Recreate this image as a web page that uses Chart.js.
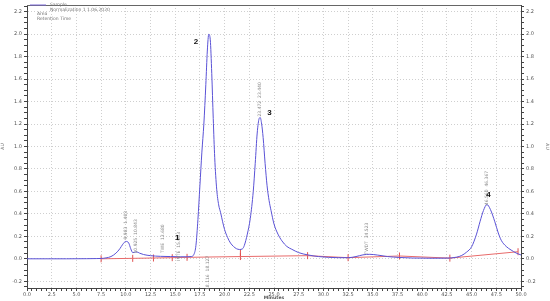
<!DOCTYPE html>
<html>
<head>
<meta charset="utf-8">
<script src="https://cdn.jsdelivr.net/npm/chart.js@4/dist/chart.umd.min.js"></script>
<style>
html,body{margin:0;padding:0;background:#fff;}
#wrap{width:550px;height:301px;position:relative;}
</style>
</head>
<body>
<div id="wrap"><canvas id="c" width="550" height="301"></canvas></div>
<script>
// ---- data ----
const traceTimes = [0,2,4,6,7,7.5,8,8.5,9,9.4,9.7,10.0,10.3,10.5,10.7,10.9,11.1,11.4,11.8,12.5,13.5,14.5,15.5,16.2,16.6,16.9,17.1,17.3,17.5,17.7,17.9,18.1,18.25,18.4,18.55,18.7,18.85,19.0,19.2,19.4,19.6,19.8,20.0,20.3,20.6,20.9,21.2,21.5,21.8,22.0,22.3,22.6,22.9,23.1,23.3,23.5,23.6,23.75,23.9,24.1,24.3,24.5,24.7,25.0,25.4,25.8,26.3,26.8,27.5,28.4,29.5,30.5,31.5,32.5,33.3,34.0,34.7,35.5,36.5,37.7,39,41,42.5,43.5,44.0,44.5,45.0,45.5,45.85,46.2,46.55,46.9,47.35,47.7,48.0,48.5,49.0,49.5,50.0];
const traceValues = [0,0,0,0.001,0.002,0.003,0.008,0.02,0.05,0.09,0.13,0.155,0.14,0.09,0.055,0.058,0.062,0.05,0.038,0.028,0.022,0.02,0.018,0.018,0.02,0.04,0.12,0.35,0.65,0.95,1.2,1.55,1.85,2.0,1.95,1.65,1.25,0.9,0.62,0.48,0.41,0.33,0.26,0.19,0.14,0.11,0.09,0.083,0.088,0.12,0.22,0.36,0.6,0.85,1.12,1.25,1.258,1.2,1.08,0.85,0.65,0.52,0.43,0.31,0.22,0.16,0.11,0.085,0.055,0.035,0.02,0.013,0.01,0.01,0.02,0.035,0.04,0.033,0.02,0.012,0.007,0.005,0.006,0.015,0.03,0.06,0.107,0.22,0.33,0.43,0.483,0.44,0.33,0.23,0.165,0.11,0.078,0.052,0.034];

const baseTimes  = [7.5,10.7,12.8,14.7,16.2,21.6,28.4,32.5,37.7,42.8,49.7];
const baseValues = [0.0,0.004,0.007,0.010,0.013,0.020,0.028,0.01,0.025,0.006,0.063];
const tallMarkTime = 21.6;
const tallMarkValues = [0.02,0.085];

const peakNames  = ["1","2","3","4"];
const peakTimes  = [15.2,17.1,24.55,46.7];
const peakValues = [0.19,1.93,1.30,0.57];

const annTexts  = ["9.983  1.403","10.925  10.843","TWE  13.680","INTE  15.003","18.116  18.127","23.472  23.440","TWDT  34.523","46.560  46.367"];
const annTimes  = [9.96,11.04,13.75,15.33,18.3,23.54,34.35,46.58];
const annValues = [0.30,0.20,0.18,0.11,-0.125,1.42,0.18,0.63];

const legendTexts = ["Sample","Normalization 1 1.06.2020","Area","Retention Time"];

const xTickValues = []; for (let i=0;i<=100;i++) xTickValues.push(i*0.5);
const yTickValues = []; for (let i=-5;i<=45;i++) yTickValues.push(i*0.05);

// ---- helpers ----
const isMajorX = v => Math.abs(v/2.5 - Math.round(v/2.5)) < 1e-6;
const isMajorY = v => Math.abs(v/0.2 - Math.round(v/0.2)) < 1e-6;
const pts = (xs,ys) => xs.map((x,i)=>({x:x,y:ys[i]}));

const overlay = {
  id:'overlay',
  afterDatasetsDraw(chart){
    const ctx = chart.ctx, xs = chart.scales.x, ys = chart.scales.y, ca = chart.chartArea;
    ctx.save();
    ctx.strokeStyle = '#666'; ctx.lineWidth = 1;
    ctx.beginPath(); ctx.moveTo(ca.left, ca.top+0.5); ctx.lineTo(ca.right, ca.top+0.5); ctx.stroke();
    ctx.fillStyle = '#8a8a8a';
    ctx.font = '4.5px "DejaVu Sans"';
    ctx.textAlign = 'center'; ctx.textBaseline = 'middle';
    annTexts.forEach((t,i)=>{
      const px = xs.getPixelForValue(annTimes[i]), py = ys.getPixelForValue(annValues[i]);
      ctx.save(); ctx.translate(px,py); ctx.rotate(-Math.PI/2); ctx.fillText(t,0,0); ctx.restore();
    });
    ctx.fillStyle = '#111';
    ctx.font = 'bold 8px "Liberation Sans"';
    peakNames.forEach((t,i)=>{
      ctx.fillText(t, xs.getPixelForValue(peakTimes[i]), ys.getPixelForValue(peakValues[i]));
    });
    ctx.strokeStyle = '#7b68d8'; ctx.lineWidth = 1;
    ctx.beginPath(); ctx.moveTo(30,5); ctx.lineTo(46,5); ctx.stroke();
    ctx.fillStyle = '#777'; ctx.font = '4.5px "DejaVu Sans"'; ctx.textAlign='left';
    ctx.fillText(legendTexts[0], 50, 5);
    ctx.fillText(legendTexts[1], 50, 9.5);
    ctx.fillText(legendTexts[2], 37, 14);
    ctx.fillText(legendTexts[3], 37, 18.5);
    ctx.restore();
  }
};

const tickFont = {family:'"DejaVu Sans"', size:5};
function yAxis(pos){
  return {
    type:'linear', position:pos, min:-0.26, max:2.26,
    afterBuildTicks: s => { s.ticks = yTickValues.map(v=>({value:v})); },
    afterFit: s => { s.width = pos==='left' ? 27 : 29; },
    ticks:{ autoSkip:false, font:tickFont, color:'#555', padding:2,
            callback: v => isMajorY(v) ? (Math.abs(v)<1e-9?0:v).toFixed(1) : '' },
    grid:{ drawOnChartArea: pos==='left',
           color: c => (c.tick && isMajorY(c.tick.value)) ? '#cfcfcf' : 'rgba(0,0,0,0)',
           tickColor:'#444', tickLength:3, lineWidth:1 },
    border:{ display:true, color:'#444', width:1, dash:[1,2] },
    title:{ display:true, text:'AU', font:{family:'"DejaVu Sans"', size:4.5}, color:'#666', padding:0 }
  };
}

new Chart(document.getElementById('c'), {
  type:'line',
  data:{ datasets:[
    { data: pts(baseTimes, baseValues), borderColor:'#e86a6a', borderWidth:1, pointRadius:0, tension:0, order:2 },
    { type:'scatter', data: pts(baseTimes, baseValues), pointStyle:'line', rotation:90, radius:3.5, pointRadius:3.5,
      borderColor:'#e0504f', pointBorderColor:'#e0504f', pointBorderWidth:1, showLine:false, order:2 },
    { data: [{x:tallMarkTime,y:tallMarkValues[0]},{x:tallMarkTime,y:tallMarkValues[1]}], borderColor:'#e0504f', borderWidth:1, pointRadius:0, order:2 },
    { data: pts(traceTimes, traceValues), borderColor:'#5a52d6', borderWidth:1, pointRadius:0, cubicInterpolationMode:'monotone', order:1 }
  ]},
  options:{
    responsive:false, animation:false, events:[],
    layout:{ padding:{ top:2, left:0, right:0, bottom:0 } },
    plugins:{ legend:{display:false}, tooltip:{enabled:false} },
    scales:{
      x:{ type:'linear', min:0, max:50,
          afterBuildTicks: s => { s.ticks = xTickValues.map(v=>({value:v})); },
          afterFit: s => { s.height = 13; },
          ticks:{ autoSkip:false, maxRotation:0, font:tickFont, color:'#555', padding:1,
                  callback: v => isMajorX(v) ? v.toFixed(1) : '' },
          grid:{ color: c => (c.tick && isMajorX(c.tick.value)) ? '#cfcfcf' : 'rgba(0,0,0,0)',
                 tickColor:'#444', tickLength:3 },
          border:{ display:true, color:'#444', width:1, dash:[1,2] },
          title:{ display:true, text:'Minutes', font:{family:'"DejaVu Sans"', size:4.5, weight:'bold'}, color:'#555', padding:0 }
      },
      y: yAxis('left'),
      y2: yAxis('right')
    }
  },
  plugins:[overlay]
});
</script>
</body>
</html>
